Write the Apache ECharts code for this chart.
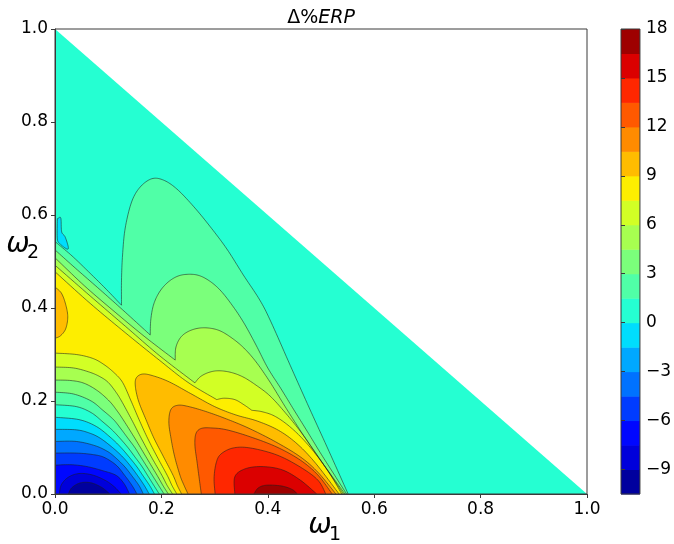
<!DOCTYPE html>
<html><head><meta charset="utf-8">
<script src="https://cdn.jsdelivr.net/npm/echarts@6/dist/echarts.min.js"></script>
<style>html,body{margin:0;padding:0;background:#fff}#c{width:674px;height:544px}</style>
</head><body><div id="c"></div>
<script>
// ---------- data ----------
const levels = [-10.5,-9,-7.5,-6,-4.5,-3,-1.5,0,1.5,3,4.5,6,7.5,9,10.5,12,13.5,15,16.5,18];
const colorbarTicks = [-9,-6,-3,0,3,6,9,12,15,18];
const axisTicks = [0,0.2,0.4,0.6,0.8,1.0];
const domain = [[0,0],[1,0],[0,1]];

// contour lines, [omega1, omega2]; inner arrays split at sharp corners
const c1_5_up = [
 [[0,0.543],[0.032,0.512],[0.063,0.478],[0.094,0.443],[0.125,0.406]],
 [[0.125,0.406],[0.125,0.460],[0.127,0.514],[0.132,0.572],[0.144,0.628],[0.160,0.660],[0.182,0.678],[0.204,0.675],[0.229,0.656],[0.260,0.619],[0.291,0.576],[0.323,0.527],[0.354,0.471],[0.385,0.417],[0.406,0.370],[0.442,0.277],[0.478,0.185],[0.515,0.092],[0.551,0]]
];
const c3_up = [
 [[0,0.525],[0.038,0.486],[0.085,0.439],[0.132,0.391],[0.179,0.342]],
 [[0.179,0.342],[0.180,0.374],[0.185,0.406],[0.195,0.432],[0.209,0.452],[0.226,0.466],[0.244,0.472],[0.267,0.471],[0.288,0.460],[0.310,0.439],[0.333,0.406],[0.355,0.368],[0.378,0.320],[0.400,0.271],[0.425,0.226],[0.449,0.181],[0.474,0.135],[0.498,0.090],[0.523,0.045],[0.548,0]]
];
const c4_5_up = [
 [[0,0.508],[0.056,0.447],[0.113,0.391],[0.169,0.338],[0.226,0.288]],
 [[0.226,0.288],[0.227,0.314],[0.235,0.335],[0.248,0.348],[0.267,0.356],[0.288,0.357],[0.310,0.351],[0.333,0.335],[0.355,0.314],[0.378,0.284],[0.404,0.241],[0.432,0.189],[0.462,0.135],[0.492,0.084],[0.519,0.041],[0.545,0]]
];
const c6_up = [
 [[0,0.492],[0.066,0.426],[0.132,0.361],[0.197,0.297],[0.263,0.239]],
 [[0.263,0.239],[0.273,0.252],[0.288,0.261],[0.306,0.265],[0.329,0.262],[0.353,0.252],[0.378,0.234],[0.404,0.211],[0.432,0.176],[0.461,0.135],[0.489,0.090],[0.517,0.043],[0.542,0]]
];
const c7_5_up = [
 [[0,0.478],[0.066,0.410],[0.132,0.347],[0.197,0.287],[0.250,0.240],[0.304,0.203]],
 [[0.304,0.203],[0.318,0.206],[0.338,0.203],[0.355,0.192],[0.370,0.180]],
 [[0.370,0.180],[0.389,0.177],[0.412,0.168],[0.438,0.148],[0.466,0.118],[0.494,0.080],[0.519,0.039],[0.539,0]]
];
const c7_5_low = [[0,0.303],[0.040,0.300],[0.070,0.292],[0.090,0.280],[0.110,0.262],[0.127,0.240],[0.143,0.200],[0.158,0.160],[0.174,0.120],[0.192,0.080],[0.211,0.040],[0.220,0.018],[0.229,0]];
const c6_low = [[0,0.273],[0.035,0.271],[0.065,0.262],[0.085,0.252],[0.100,0.240],[0.114,0.220],[0.125,0.200],[0.144,0.160],[0.162,0.120],[0.181,0.080],[0.201,0.040],[0.211,0.018],[0.221,0]];
const c4_5_low = [[0,0.245],[0.030,0.244],[0.055,0.238],[0.080,0.222],[0.102,0.200],[0.116,0.180],[0.128,0.160],[0.150,0.120],[0.171,0.080],[0.192,0.040],[0.203,0.018],[0.213,0]];
const c3_low = [[0,0.219],[0.035,0.215],[0.068,0.200],[0.090,0.180],[0.110,0.160],[0.124,0.140],[0.137,0.120],[0.150,0.100],[0.161,0.080],[0.172,0.060],[0.183,0.040],[0.195,0.018],[0.205,0]];
const c1_5_low = [[0,0.192],[0.040,0.188],[0.068,0.175],[0.090,0.155],[0.108,0.137],[0.122,0.120],[0.137,0.100],[0.150,0.080],[0.163,0.060],[0.174,0.040],[0.186,0.018],[0.196,0]];
const c0_low = [[0,0.165],[0.045,0.160],[0.078,0.145],[0.106,0.120],[0.124,0.100],[0.139,0.080],[0.153,0.060],[0.165,0.040],[0.178,0.018],[0.187,0]];
const cm1_5 = [[0,0.139],[0.040,0.138],[0.065,0.131],[0.085,0.120],[0.108,0.100],[0.127,0.080],[0.142,0.060],[0.155,0.040],[0.168,0.018],[0.177,0]];
const cm3 = [[0,0.113],[0.040,0.113],[0.075,0.104],[0.098,0.092],[0.112,0.080],[0.130,0.060],[0.144,0.040],[0.158,0.018],[0.166,0]];
const cm4_5 = [[0,0.088],[0.040,0.088],[0.070,0.085],[0.092,0.079],[0.115,0.062],[0.131,0.040],[0.145,0.018],[0.154,0]];
const cm6 = [[0,0.062],[0.030,0.063],[0.060,0.059],[0.090,0.050],[0.115,0.040],[0.130,0.022],[0.140,0]];
const cm7_5 = [[0.008,0],[0.012,0.020],[0.025,0.036],[0.045,0.044],[0.070,0.041],[0.095,0.029],[0.112,0.015],[0.124,0]];
const cm9 = [[0.025,0],[0.032,0.014],[0.048,0.024],[0.068,0.024],[0.088,0.014],[0.103,0]];
const c9_left = [[0,0.445],[0.012,0.432],[0.020,0.408],[0.024,0.381],[0.020,0.355],[0.010,0.340],[0,0.335]];
const c9_hill = [[0.238,0],[0.230,0.018],[0.222,0.040],[0.204,0.080],[0.186,0.120],[0.171,0.160],[0.157,0.200],[0.151,0.232],[0.153,0.250],[0.165,0.258],[0.185,0.254],[0.215,0.241],[0.255,0.216],[0.300,0.188],[0.340,0.170],[0.380,0.157],[0.420,0.137],[0.455,0.108],[0.490,0.066],[0.534,0]];
const c10_5_hill = [[0.250,0],[0.242,0.020],[0.235,0.040],[0.225,0.080],[0.218,0.120],[0.214,0.155],[0.218,0.182],[0.232,0.191],[0.255,0.187],[0.290,0.175],[0.330,0.158],[0.367,0.140],[0.415,0.112],[0.461,0.080],[0.494,0.047],[0.528,0]];
const c12_hill = [[0.275,0],[0.271,0.034],[0.267,0.069],[0.263,0.105],[0.265,0.130],[0.275,0.141],[0.295,0.142],[0.323,0.138],[0.367,0.123],[0.417,0.101],[0.461,0.073],[0.494,0.041],[0.521,0]];
const c13_5_hill = [[0.301,0],[0.299,0.034],[0.303,0.067],[0.312,0.086],[0.335,0.099],[0.367,0.099],[0.417,0.084],[0.461,0.058],[0.494,0.030],[0.509,0]];
const c15_hill = [[0.338,0],[0.338,0.037],[0.357,0.054],[0.389,0.059],[0.427,0.052],[0.461,0.030],[0.492,0]];
const c16_5_hill = [[0.374,0],[0.382,0.013],[0.398,0.019],[0.427,0.017],[0.447,0.009],[0.455,0]];
const c0_flag = [[0.0044,0.592],[0.006,0.593],[0.011,0.593],[0.0125,0.564],[0.019,0.553],[0.025,0.531],[0.022,0.527],[0.0094,0.538],[0.0044,0.549],[0.0044,0.592]];

// ---------- regions: band index into levels, painted in order ----------
const regions = [
 {band:7, parts:[{line:domain}]},
 {band:8, parts:[{curve:c1_5_up},{curve:[c1_5_low],reverse:true}]},
 {band:9, parts:[{curve:c3_up},{curve:[c3_low],reverse:true}]},
 {band:10, parts:[{curve:c4_5_up},{curve:[c4_5_low],reverse:true}]},
 {band:11, parts:[{curve:c6_up},{curve:[c6_low],reverse:true}]},
 {band:12, parts:[{curve:c7_5_up},{curve:[c7_5_low],reverse:true}]},
 {band:13, parts:[{curve:[c9_hill]}]},
 {band:13, parts:[{curve:[c9_left]}]},
 {band:14, parts:[{curve:[c10_5_hill]}]},
 {band:15, parts:[{curve:[c12_hill]}]},
 {band:16, parts:[{curve:[c13_5_hill]}]},
 {band:17, parts:[{curve:[c15_hill]}]},
 {band:18, parts:[{curve:[c16_5_hill]}]},
 {band:6, parts:[{curve:[c0_low]},{line:[[0,0]]}]},
 {band:5, parts:[{curve:[cm1_5]},{line:[[0,0]]}]},
 {band:4, parts:[{curve:[cm3]},{line:[[0,0]]}]},
 {band:3, parts:[{curve:[cm4_5]},{line:[[0,0]]}]},
 {band:2, parts:[{curve:[cm6]},{line:[[0,0]]}]},
 {band:1, parts:[{curve:[cm7_5]}]},
 {band:0, parts:[{curve:[cm9]}]},
 {band:6, parts:[{curve:[c0_flag]}]}
];

// ---------- styling helpers ----------
function interp(seg, t){
  for(let i=1;i<seg.length;i++){ if(t<=seg[i][0]){ const a=seg[i-1], b=seg[i]; return a[1]+(b[1]-a[1])*(t-a[0])/(b[0]-a[0]); } }
  return seg[seg.length-1][1];
}
function jet(t){
  const r=interp([[0,0],[0.35,0],[0.66,1],[0.89,1],[1,0.5]],t);
  const g=interp([[0,0],[0.125,0],[0.375,1],[0.64,1],[0.91,0],[1,0]],t);
  const b=interp([[0,0.5],[0.11,1],[0.34,1],[0.65,0],[1,0]],t);
  return 'rgb('+Math.round(r*255)+','+Math.round(g*255)+','+Math.round(b*255)+')';
}
const nBands = levels.length-1;
const bandColor = i => jet((i+0.5)/nBands);

function smoothSeg(p){
  const n=p.length; if(n<3) return p.slice();
  const out=[];
  for(let i=0;i<n-1;i++){
    const p0=p[Math.max(i-1,0)], p1=p[i], p2=p[i+1], p3=p[Math.min(i+2,n-1)];
    for(let s=0;s<10;s++){
      const t=s/10, t2=t*t, t3=t2*t;
      const f=k=>0.5*(2*p1[k]+(-p0[k]+p2[k])*t+(2*p0[k]-5*p1[k]+4*p2[k]-p3[k])*t2+(-p0[k]+3*p1[k]-3*p2[k]+p3[k])*t3);
      out.push([f(0),f(1)]);
    }
  }
  out.push(p[n-1]);
  return out;
}
function build(r, api){
  const fill=[], strokes=[];
  r.parts.forEach(part=>{
    if(part.line){ part.line.forEach(d=>fill.push(api.coord(d))); return; }
    let pts=[];
    part.curve.forEach(seg=>{ pts=pts.concat(smoothSeg(seg.map(d=>api.coord(d)))); });
    if(part.reverse) pts.reverse();
    pts.forEach(q=>fill.push(q));
    strokes.push(pts);
  });
  return {fill, strokes};
}

const fmtMinus = v => (v<0 ? '\u2212'+(-v) : String(v));
const FONT = 'DejaVu Sans';
const SPINE = '#3a3a3a';

const chart = echarts.init(document.getElementById('c'), null, {renderer:'canvas'});
chart.setOption({
  animation:false,
  backgroundColor:'#fff',
  grid:[
    {left:55, top:29, width:532, height:465},
    {left:621, top:29, width:22, height:465}
  ],
  xAxis:[
    {gridIndex:0, type:'value', min:0, max:1, interval:0.2, z:5,
     axisLine:{show:true, onZero:false, lineStyle:{color:SPINE, width:1}},
     axisTick:{show:true, length:4, lineStyle:{color:SPINE}},
     axisLabel:{fontFamily:FONT, fontSize:17, color:'#000', margin:7, formatter:v=>v.toFixed(1)},
     splitLine:{show:false}},
    {gridIndex:1, type:'value', min:0, max:1, show:false}
  ],
  yAxis:[
    {gridIndex:0, type:'value', min:0, max:1, interval:0.2, z:5,
     axisLine:{show:true, onZero:false, lineStyle:{color:SPINE, width:1}},
     axisTick:{show:true, length:4, lineStyle:{color:SPINE}},
     axisLabel:{fontFamily:FONT, fontSize:17, color:'#000', margin:7, formatter:v=>v.toFixed(1)},
     splitLine:{show:false}},
    {gridIndex:1, type:'value', min:levels[0], max:levels[levels.length-1], position:'right', z:5,
     axisLine:{show:false},
     axisTick:{show:true, length:4, lineStyle:{color:SPINE}, customValues:colorbarTicks},
     axisLabel:{fontFamily:FONT, fontSize:17, color:'#000', margin:6, customValues:colorbarTicks, formatter:fmtMinus},
     splitLine:{show:false}}
  ],
  series:[
    {type:'custom', xAxisIndex:0, yAxisIndex:0, clip:true, z:1, silent:true,
     data: regions.map((r,i)=>[0.5,0.5,i]), encode:{x:0,y:1},
     renderItem:(params, api)=>{
       const r=regions[params.dataIndex];
       const b=build(r, api);
       return {type:'polygon', shape:{points:b.fill}, style:{fill:bandColor(r.band), stroke:null}};
     }},
    {type:'custom', xAxisIndex:0, yAxisIndex:0, clip:true, z:2, silent:true,
     data: regions.map((r,i)=>[0.5,0.5,i]), encode:{x:0,y:1},
     renderItem:(params, api)=>{
       const r=regions[params.dataIndex];
       if(r.parts.every(p=>p.line)) return null;
       const b=build(r, api);
       return {type:'group', children:b.strokes.map(s=>({type:'polyline', shape:{points:s}, style:{stroke:'rgba(30,30,30,0.55)', lineWidth:1, fill:null}}))};
     }},
    {type:'custom', xAxisIndex:0, yAxisIndex:0, z:6, silent:true, data:[[0.5,0.5]], encode:{x:0,y:1},
     renderItem:(params, api)=>{
       const a=api.coord([0,0]), c=api.coord([1,1]);
       return {type:'rect', shape:{x:a[0], y:c[1], width:c[0]-a[0], height:a[1]-c[1]}, style:{fill:null, stroke:SPINE, lineWidth:1}};
     }},
    {type:'custom', xAxisIndex:1, yAxisIndex:1, z:1, silent:true,
     data: levels.slice(0,-1).map((lo,i)=>[0.5, lo, levels[i+1], i]), encode:{x:0,y:1},
     renderItem:(params, api)=>{
       const i=api.value(3);
       const a=api.coord([0, api.value(1)]), c=api.coord([1, api.value(2)]);
       return {type:'rect', shape:{x:a[0], y:c[1], width:c[0]-a[0], height:a[1]-c[1]+0.5}, style:{fill:bandColor(i)}};
     }},
    {type:'custom', xAxisIndex:1, yAxisIndex:1, z:6, silent:true, data:[[0.5,0]], encode:{x:0,y:1},
     renderItem:(params, api)=>{
       const a=api.coord([0,levels[0]]), c=api.coord([1,levels[levels.length-1]]);
       return {type:'rect', shape:{x:a[0], y:c[1], width:c[0]-a[0], height:a[1]-c[1]}, style:{fill:null, stroke:SPINE, lineWidth:1}};
     }}
  ],
  graphic:[
    {type:'text', x:321, y:18, style:{text:'{a|\u0394%}{b|ERP}', align:'center', verticalAlign:'middle',
      rich:{a:{fontFamily:FONT, fontSize:19, fill:'#000'}, b:{fontFamily:FONT, fontSize:19, fontStyle:'italic', fill:'#000'}}}},
    {type:'text', x:320, y:526, style:{text:'\u03c9', fontFamily:FONT, fontSize:28, fontStyle:'italic', fill:'#000', align:'center', verticalAlign:'middle'}},
    {type:'text', x:335, y:535, style:{text:'1', fontFamily:FONT, fontSize:19, fill:'#000', align:'center', verticalAlign:'middle'}},
    {type:'text', x:18, y:245, style:{text:'\u03c9', fontFamily:FONT, fontSize:28, fontStyle:'italic', fill:'#000', align:'center', verticalAlign:'middle'}},
    {type:'text', x:33, y:253, style:{text:'2', fontFamily:FONT, fontSize:19, fill:'#000', align:'center', verticalAlign:'middle'}}
  ]
});
</script>
</body></html>
